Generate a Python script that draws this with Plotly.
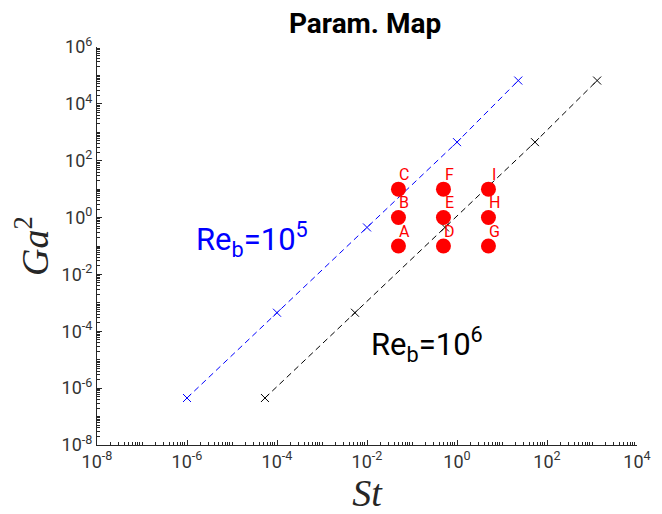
import numpy as np
import plotly.graph_objects as go

# Re_b = 1e5 line (blue)
st_re5 = [1e-6, 1e-4, 1e-2, 1.0, 23.0]
ga2_re5 = [4.5e-7, 4.5e-4, 0.45, 450.0, 6.6e4]
# Re_b = 1e6 line (black)
st_re6 = [5.4e-5, 5.4e-3, 0.54, 54.0, 1300.0]
ga2_re6 = [4.5e-7, 4.5e-4, 0.45, 450.0, 6.6e4]
# parameter cases
case_labels = ["A", "B", "C", "D", "E", "F", "G", "H", "I"]
case_st = [0.05, 0.05, 0.05, 0.5, 0.5, 0.5, 5.0, 5.0, 5.0]
case_ga2 = [0.1, 1.0, 10.0, 0.1, 1.0, 10.0, 0.1, 1.0, 10.0]

x_major = [10.0 ** k for k in range(-8, 5, 2)]
y_major = [10.0 ** k for k in range(-8, 7, 2)]

def tick_text(vals):
    return ["10<sup>%d</sup>" % int(round(np.log10(v))) for v in vals]

def minor_vals(lo, hi):
    return [m * 10.0 ** k for k in range(lo, hi) for m in range(1, 10) if not (m == 1 and k % 2 == 0)]

fig = go.Figure()
fig.add_trace(go.Scatter(
    x=st_re5, y=ga2_re5, mode="lines+markers",
    line=dict(color="#0000ff", width=1, dash="6px,4px"),
    marker=dict(symbol="x-thin", size=8, line=dict(color="#0000ff", width=1)),
    showlegend=False))
fig.add_trace(go.Scatter(
    x=st_re6, y=ga2_re6, mode="lines+markers",
    line=dict(color="#000000", width=1, dash="6px,4px"),
    marker=dict(symbol="x-thin", size=8, line=dict(color="#000000", width=1)),
    showlegend=False))
fig.add_trace(go.Scatter(
    x=case_st, y=case_ga2, mode="markers",
    marker=dict(color="#ff0000", size=15),
    showlegend=False))

for lab, sx, gy in zip(case_labels, case_st, case_ga2):
    fig.add_annotation(x=np.log10(sx), y=np.log10(gy), text=lab, showarrow=False,
                       xshift=6, yshift=15,
                       font=dict(family="Roboto", size=16, color="#ff0000"))

fig.add_annotation(x=np.log10(2.8e-5), y=np.log10(0.17),
                   text="Re<sub>b</sub>=10<sup>5</sup>", showarrow=False,
                   font=dict(family="Roboto", size=31, color="#0000ff"))
fig.add_annotation(x=np.log10(0.21), y=np.log10(3.3e-5),
                   text="Re<sub>b</sub>=10<sup>6</sup>", showarrow=False,
                   font=dict(family="Roboto", size=31, color="#000000"))

axis_common = dict(
    type="log", showgrid=False, zeroline=False, showline=True,
    linecolor="#262626", linewidth=1, ticks="inside", ticklen=5,
    tickcolor="#262626", tickmode="array",
    tickfont=dict(family="Roboto", size=18, color="#333333"),
    mirror=False,
)

fig.update_xaxes(**axis_common, range=[-8, 4], tickvals=x_major, ticktext=tick_text(x_major),
                 minor=dict(ticks="inside", ticklen=3, tickcolor="#262626", tickmode="array",
                            tickvals=minor_vals(-8, 4)),
                 title=dict(text="<i>St</i>", font=dict(family="Liberation Serif", size=38, color="#262626"),
                            standoff=0))
fig.update_yaxes(**axis_common, range=[-8, 6], tickvals=y_major, ticktext=tick_text(y_major),
                 minor=dict(ticks="inside", ticklen=3, tickcolor="#262626", tickmode="array",
                            tickvals=minor_vals(-8, 6)),
                 title=dict(text="<i>Ga</i><sup>2</sup>", font=dict(family="Liberation Serif", size=38, color="#262626"),
                            standoff=6))

fig.update_layout(
    width=654, height=506,
    margin=dict(l=89, r=25, t=39, b=69),
    plot_bgcolor="white", paper_bgcolor="white",
    title=dict(text="<b>Param. Map</b>", x=0.546, xanchor="center", y=0.99, yanchor="top",
               font=dict(family="Roboto", size=28, color="#000000")),
)

fig.write_html("out.html")
